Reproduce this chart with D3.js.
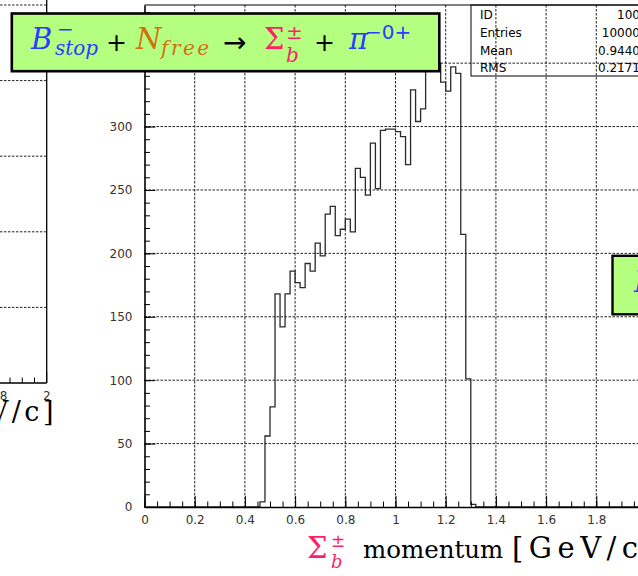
<!DOCTYPE html>
<html><head><meta charset="utf-8">
<script src="https://cdn.jsdelivr.net/npm/d3@7"></script>
<style>html,body{margin:0;padding:0;background:#fff;overflow:hidden}</style>
</head><body>
<svg id="c" width="638" height="576" xmlns="http://www.w3.org/2000/svg"></svg>
<script>
// ---- data ----
const binLowEdges = [0.46,0.48,0.50,0.52,0.54,0.56,0.58,0.60,0.62,0.64,0.66,0.68,0.70,0.72,0.74,0.76,0.78,0.80,0.82,0.84,0.86,0.88,0.90,0.92,0.94,0.96,0.98,1.00,1.02,1.04,1.06,1.08,1.10,1.12,1.14,1.16,1.18,1.20,1.22,1.24,1.26,1.28,1.30];
const binCounts   = [4,56,79,168,142,168,186,177,173,192,186,208,198,231,237,214,219,227,217,267,260,246,287,251,297,298,298,296,292,270,329,304,314,348,377,350,335,328,347,342,215,101,2];
const binWidth = 0.02;
const xTicks = [0,0.2,0.4,0.6,0.8,1,1.2,1.4,1.6,1.8,2];
const xTickLabels = ["0","0.2","0.4","0.6","0.8","1","1.2","1.4","1.6","1.8","2"];
const xMinorTicks = d3.range(0, 41).map(i => i*0.05);
const yTicks = [0,50,100,150,200,250,300,350];
const yMinorTicks = d3.range(0, 40).map(i => i*10);
const statsLabels = ["ID","Entries","Mean","RMS"];
const statsValues = ["100","10000","0.9440","0.2171"];
// neighbouring pad (left), only its edge is visible
const leftYGrid = [100,200,300,400,500];
const leftXTicks = [1.8,2];
const leftXTickLabels = ["1.8","2"];
const leftXMinor = [1.85,1.9,1.95];

const svg = d3.select("#c");
const LBL = "'DejaVu Sans', sans-serif";
const SERIF = "'DejaVu Serif', serif";
const BLUE = "#2a3cff", ORANGE = "#d2700f", PINK = "#ff1f68", GREEN = "#b4ff80";

// ---- main scales ----
const x = d3.scaleLinear().domain([0, 2]).range([144.5, 646.5]);
const yMax = d3.max(binCounts) * 1.05;
const y = d3.scaleLinear().domain([0, yMax]).range([507, 5]);

// ---- left pad edge ----
const lx = d3.scaleLinear().domain([1.8, 2]).range([-2.2, 46.7]);
const ly = d3.scaleLinear().domain([0, 500]).range([383, 5]);
const lp = svg.append("g");
lp.selectAll("line.lg").data(leftYGrid).enter().append("line")
  .attr("x1", 0).attr("x2", lx(2)).attr("y1", d => ly(d)).attr("y2", d => ly(d))
  .attr("stroke", "#222").attr("stroke-dasharray", "2.5,1.5").attr("stroke-width", 1);
lp.append("line").attr("x1", lx(2)).attr("x2", lx(2)).attr("y1", 0).attr("y2", ly(0))
  .attr("stroke", "#000").attr("stroke-width", 1.3);
lp.append("line").attr("x1", 0).attr("x2", lx(2)).attr("y1", ly(0)).attr("y2", ly(0))
  .attr("stroke", "#000").attr("stroke-width", 1.5);
lp.selectAll("line.lt").data(leftXTicks).enter().append("line")
  .attr("x1", d => lx(d)).attr("x2", d => lx(d)).attr("y1", ly(0)).attr("y2", ly(0) - 11)
  .attr("stroke", "#000");
lp.selectAll("line.lm").data(leftXMinor).enter().append("line")
  .attr("x1", d => lx(d)).attr("x2", d => lx(d)).attr("y1", ly(0)).attr("y2", ly(0) - 5.5)
  .attr("stroke", "#000");
lp.selectAll("text.ll").data(leftXTicks).enter().append("text")
  .attr("x", d => lx(d)).attr("y", 400).attr("text-anchor", "middle")
  .attr("font-family", LBL).attr("font-size", 12).attr("fill", "#333")
  .text((d, i) => leftXTickLabels[i]);
lp.append("text").attr("x", 57).attr("y", 421).attr("text-anchor", "end")
  .attr("font-family", SERIF).attr("font-size", 27).attr("letter-spacing", 3.5).attr("fill", "#000")
  .text("[GeV/c]");

// ---- grid ----
const g = svg.append("g");
g.selectAll("line.gx").data(xTicks.slice(1, -1)).enter().append("line")
  .attr("x1", d => x(d)).attr("x2", d => x(d)).attr("y1", y(yMax)).attr("y2", y(0))
  .attr("stroke", "#222").attr("stroke-dasharray", "2.5,1.5").attr("stroke-width", 1);
g.selectAll("line.gy").data(yTicks.slice(1)).enter().append("line")
  .attr("x1", x(0)).attr("x2", x(2)).attr("y1", d => y(d)).attr("y2", d => y(d))
  .attr("stroke", "#222").attr("stroke-dasharray", "2.5,1.5").attr("stroke-width", 1);

// ---- histogram ----
const pts = [[0, 0]];
binLowEdges.forEach((e, i) => pts.push([e, binCounts[i]]));
pts.push([binLowEdges[binLowEdges.length - 1] + binWidth, 0]);
pts.push([2, 0]);
const line = d3.line().x(d => x(d[0])).y(d => y(d[1])).curve(d3.curveStepAfter);
svg.append("path").attr("d", line(pts)).attr("fill", "none")
  .attr("stroke", "#2a2a2a").attr("stroke-width", 1.3);

// ---- axes ----
const yAxis = d3.axisLeft(y).tickValues(yTicks).tickSizeInner(-11).tickSizeOuter(0).tickPadding(12);
const ya = svg.append("g").attr("transform", `translate(${x(0)},0)`).call(yAxis);
ya.select(".domain").attr("stroke-width", 1.6);
ya.selectAll("text").attr("font-family", LBL).attr("font-size", 12).attr("fill", "#333");
const yMin = svg.append("g").attr("transform", `translate(${x(0)},0)`)
  .call(d3.axisLeft(y).tickValues(yMinorTicks).tickSizeInner(-5.5).tickSizeOuter(0).tickFormat(""));
yMin.select(".domain").remove();

const xAxis = d3.axisBottom(x).tickValues(xTicks).tickSizeInner(-11).tickSizeOuter(0).tickPadding(8.5)
  .tickFormat((d, i) => xTickLabels[i]);
const xa = svg.append("g").attr("transform", `translate(0,${y(0)})`).call(xAxis);
xa.select(".domain").attr("stroke-width", 1.6);
xa.selectAll("text").attr("font-family", LBL).attr("font-size", 12).attr("fill", "#333");
const xMin = svg.append("g").attr("transform", `translate(0,${y(0)})`)
  .call(d3.axisBottom(x).tickValues(xMinorTicks).tickSizeInner(-5.5).tickSizeOuter(0).tickFormat(""));
xMin.select(".domain").remove();
svg.selectAll(".tick line").attr("stroke", "#000");
// frame top / right
svg.append("line").attr("x1", x(0)).attr("x2", x(2)).attr("y1", y(yMax)).attr("y2", y(yMax)).attr("stroke", "#000");
svg.append("line").attr("x1", x(2)).attr("x2", x(2)).attr("y1", y(yMax)).attr("y2", y(0)).attr("stroke", "#000");

// ---- x axis title ----
const t = svg.append("g").attr("font-family", SERIF);
t.append("text").attr("x", 307).attr("y", 558).attr("font-size", 29).attr("fill", PINK).text("Σ");
t.append("text").attr("x", 331).attr("y", 547).attr("font-size", 17).attr("fill", PINK).attr("font-family", LBL).text("±");
t.append("text").attr("x", 331).attr("y", 568).attr("font-size", 18).attr("fill", PINK).attr("font-style", "italic").text("b");
t.append("text").attr("x", 363).attr("y", 558).attr("font-size", 24.5).attr("fill", "#000").text("momentum");
t.append("text").attr("x", 512).attr("y", 558).attr("font-size", 29).attr("letter-spacing", 5.5).attr("fill", "#000").text("[GeV/c]");

// ---- title box ----
svg.append("rect").attr("x", 11.8).attr("y", 13.5).attr("width", 427.5).attr("height", 57.7)
  .attr("fill", GREEN).attr("stroke", "#000").attr("stroke-width", 2.6);
const tb = svg.append("g").attr("font-family", SERIF);
function piece(txt, px, py, size, color, opts = {}) {
  const e = tb.append("text").attr("x", px).attr("y", py).attr("font-size", size).attr("fill", color).text(txt);
  if (opts.italic) e.attr("font-style", "italic");
  if (opts.sans) e.attr("font-family", LBL);
  if (opts.ls) e.attr("letter-spacing", opts.ls);
  return e;
}
piece("B", 31, 49, 29, BLUE, {italic: true});
piece("−", 57, 36, 20, BLUE, {sans: true});
piece("stop", 55, 55, 20, BLUE, {italic: true});
piece("+", 106, 51, 25, "#000", {sans: true});
piece("N", 136, 49, 29, ORANGE, {italic: true});
piece("free", 161, 55, 20, ORANGE, {italic: true, ls: 2.5});
piece("→", 223, 52, 28, "#000", {sans: true});
piece("Σ", 264, 49, 29, PINK);
piece("±", 286, 39, 20, PINK, {sans: true});
piece("b", 286, 62, 20, PINK, {italic: true});
piece("+", 314, 51, 25, "#000", {sans: true});
piece("π", 349, 49, 29, BLUE, {italic: true});
piece("−0+", 365, 39, 20, BLUE, {sans: true});

// ---- stats box (transparent) ----
svg.append("rect").attr("x", 471).attr("y", 5).attr("width", 220).attr("height", 71)
  .attr("fill", "none").attr("stroke", "#000").attr("stroke-width", 1);
const sb = svg.append("g").attr("font-family", LBL).attr("font-size", 12).attr("fill", "#000");
const rowY = [19, 37, 54.5, 72];
sb.selectAll("text.sl").data(statsLabels).enter().append("text")
  .attr("x", 480).attr("y", (d, i) => rowY[i]).text(d => d);
sb.selectAll("text.sv").data(statsValues).enter().append("text")
  .attr("x", 640).attr("y", (d, i) => rowY[i]).attr("text-anchor", "end").text(d => d);

// ---- neighbouring label box at right edge ----
svg.append("rect").attr("x", 612.5).attr("y", 255.8).attr("width", 100).attr("height", 58.5)
  .attr("fill", GREEN).attr("stroke", "#000").attr("stroke-width", 2.4);
svg.append("text").attr("x", 634).attr("y", 292).attr("font-family", SERIF).attr("font-style", "italic")
  .attr("font-size", 29).attr("fill", BLUE).text("B");
</script>
</body></html>
